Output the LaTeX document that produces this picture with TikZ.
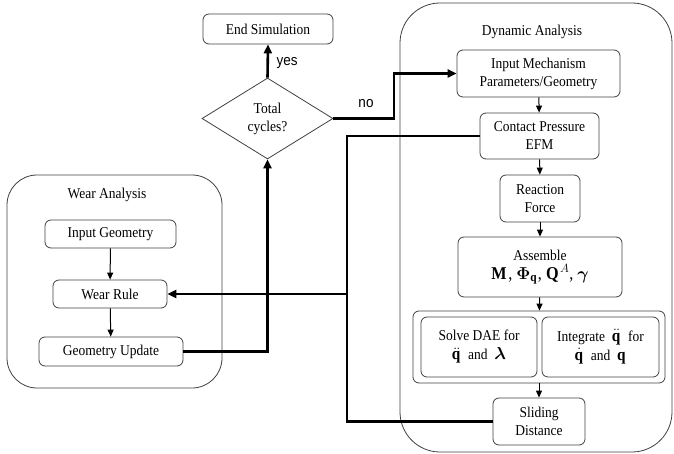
\documentclass[tikz,border=0pt]{standalone}
\usepackage{amsmath,bm}
\usepackage{fontspec}
\setmainfont{Liberation Serif}[FakeStretch=0.9]
\newfontfamily\sansf{Liberation Sans}[FakeStretch=0.9]
\usetikzlibrary{shapes.geometric,arrows.meta}
\newcommand{\fs}{\fontsize{15}{18}\selectfont}
\newcommand{\mybigmath}[1]{{\fontsize{17}{18}\selectfont$#1$}}
\begin{document}
\begin{tikzpicture}[x=1pt,y=-1pt,
  box/.style={draw=black!75, line width=0.8pt, rounded corners=6pt, align=center, inner sep=0pt, font=\fs},
  container/.style={draw=black!75, line width=0.8pt, rounded corners=#1},
  title/.style={font=\fs, inner sep=0pt},
  thinarrow/.style={line width=1pt, -{Triangle[length=7pt,width=6pt]}},
  thickline/.style={line width=2.6pt},
  thickarrow/.style={line width=2.6pt, -{Triangle[length=9pt,width=8pt]}},
  lbl/.style={font=\sansf\fontsize{15}{18}\selectfont, inner sep=0pt}]
\useasboundingbox (0,0) rectangle (674,454);
% containers
\node[container=40pt, minimum width=272pt, minimum height=449pt] (dyn) at (536,227.5) {};
\node[container=30pt, minimum width=215pt, minimum height=213pt] (wear) at (114.5,281.5) {};
\node[title] (dyntitle) at (532,32) {Dynamic Analysis};
\node[title] (weartitle) at (107,195) {Wear Analysis};
% top-left
\node[box, minimum width=130pt, minimum height=30pt] (endsim) at (268,29) {End Simulation};
\node[draw=black!75, line width=0.8pt, diamond, inner sep=0pt, minimum width=131pt, minimum height=81pt, align=center, font=\fs] (dia) at (267.5,118.5) {Total\\cycles?};
% dynamic analysis
\node[box, minimum width=163pt, minimum height=47pt] (inmech) at (538.5,73.5) {Input Mechanism\\Parameters/Geometry};
\node[box, minimum width=119pt, minimum height=46pt] (contact) at (539.5,136) {Contact Pressure\\EFM};
\node[box, minimum width=80pt, minimum height=47pt] (reaction) at (540,198.5) {Reaction\\Force};
\node[box, minimum width=164pt, minimum height=60pt] (assemble) at (540,267) {Assemble\\[1pt]{\fontsize{18}{19}\selectfont$\mathbf{M}$, $\bm{\Phi}_{\mathbf{q}}$, $\mathbf{Q}^{A}$, $\bm{\gamma}$}};
\node[box, minimum width=252pt, minimum height=72pt] (group) at (539,347) {};
\node[box, minimum width=116pt, minimum height=60pt] (solve) at (479,347) {Solve DAE for\\[1pt]\mybigmath{\ddot{\mathbf{q}}}\ \ and\ \ \mybigmath{\bm{\lambda}}};
\node[box, minimum width=117pt, minimum height=60pt] (integ) at (600.5,347) {Integrate\ \ \mybigmath{\ddot{\mathbf{q}}}\ \ for\\[1pt]\mybigmath{\dot{\mathbf{q}}}\ \ and\ \ \mybigmath{\mathbf{q}}};
\node[box, minimum width=92pt, minimum height=47pt] (sliding) at (539,421.5) {Sliding\\Distance};
% wear analysis
\node[box, minimum width=131pt, minimum height=28pt] (inputgeo) at (110.5,234) {Input Geometry};
\node[box, minimum width=114pt, minimum height=28pt] (wearrule) at (110,294) {Wear Rule};
\node[box, minimum width=144pt, minimum height=29pt] (geoupd) at (111,351.5) {Geometry Update};
% thin arrows
\draw[thinarrow] (inmech) -- (contact);
\draw[thinarrow] (contact) -- (reaction);
\draw[thinarrow] (reaction) -- (assemble);
\draw[thinarrow] (assemble) -- (group);
\draw[thinarrow] (group) -- (sliding);
\draw[thinarrow] (inputgeo) -- (wearrule);
\draw[thinarrow] (wearrule) -- (geoupd);
% thick connectors
\draw[thickarrow] (dia.north) -- (endsim.south);
\node[lbl] (yes) at (287,63) {yes};
\coordinate (n1) at (394,118.5);
\draw[thickarrow] (dia.east) -- (n1) |- (inmech.west);
\node[lbl] (no) at (366,104) {no};
\coordinate (c1) at (347,136);
\coordinate (c2) at (347,421.5);
\draw[thickline] (contact.west) -- (c1) -- (c2) -- (sliding.west);
\coordinate (j) at (347,294);
\draw[thickarrow] (j) -- (wearrule.east);
\coordinate (g1) at (267.5,351.5);
\draw[thickarrow] (geoupd.east) -- (g1) -- (dia.south);
\end{tikzpicture}
\end{document}
